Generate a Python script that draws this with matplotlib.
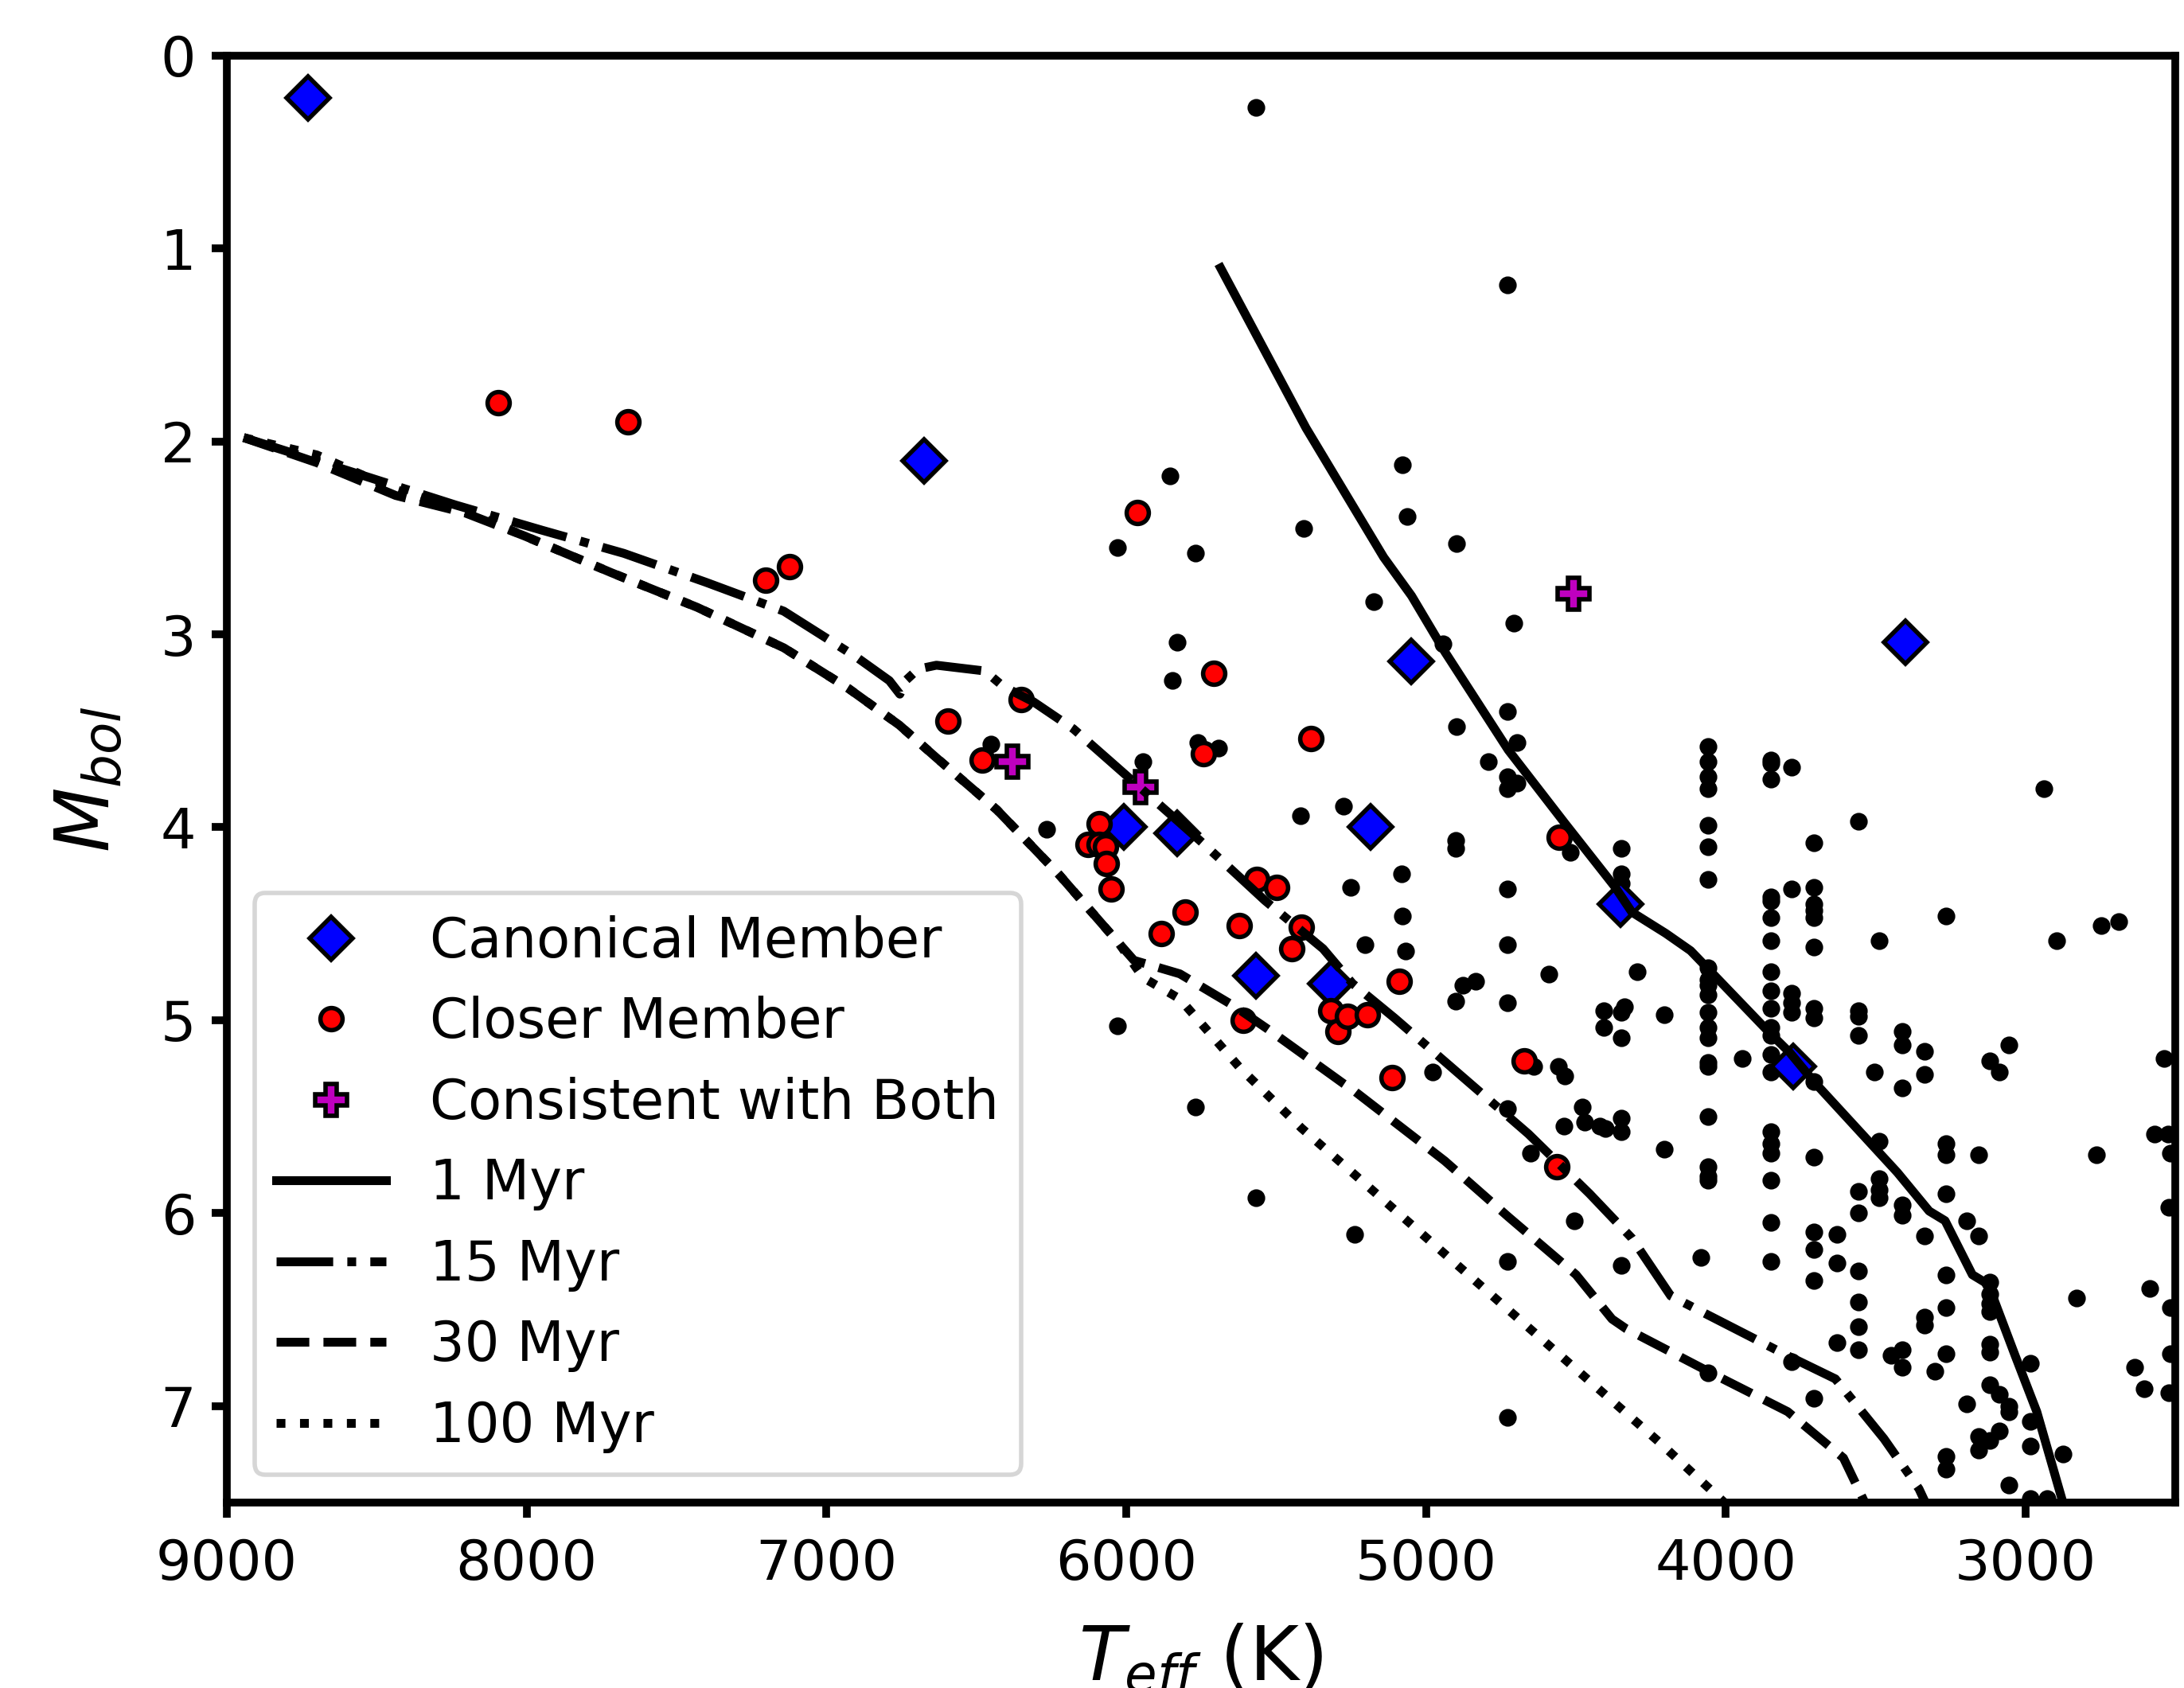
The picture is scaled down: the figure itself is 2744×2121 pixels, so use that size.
import numpy as np
import matplotlib
matplotlib.use("Agg")
import matplotlib.pyplot as plt

# canonical members (blue diamonds)
canon_teff = [8730, 6673, 5050, 3400, 6009, 5830, 5184, 4350, 5568, 5318, 3775]
canon_mbol = [0.22, 2.10, 3.14, 3.04, 4.00, 4.03, 4.00, 4.40, 4.77, 4.81, 5.24]

# closer members (red circles)
closer_teff = [8094, 7662, 7203, 7124, 5962, 5707, 6594, 6351, 6481, 5741, 5385,
               6091, 6126, 6091, 6070, 6065, 6049, 5802, 5882, 5563, 5497, 5622,
               5415, 5447, 5609, 5317, 5294, 5261, 5196, 5088, 5112, 4671, 4563, 4555]
closer_mbol = [1.80, 1.90, 2.72, 2.65, 2.37, 3.20, 3.45, 3.34, 3.65, 3.62, 3.54,
               3.98, 4.09, 4.09, 4.10, 4.19, 4.32, 4.44, 4.55, 4.27, 4.31, 4.51,
               4.52, 4.63, 5.00, 4.95, 5.06, 4.98, 4.97, 4.80, 5.30, 5.21, 5.76, 4.05]

# consistent with both (magenta plus)
both_teff = [6380, 5953, 4507]
both_mbol = [3.66, 3.79, 2.79]

# field stars (small black dots)
field_teff = [5568, 4727, 5855, 6028, 5768, 5407, 5078, 5062, 4897, 5173, 4706, 4942,
              5829, 5845, 4727, 4897, 4695, 4791, 4727, 4695, 4727, 6452, 5943, 5760,
              5693, 6264, 5417, 5274, 5250,
              4058, 4058, 4058, 4058, 4058, 4058, 4058, 4058, 4058, 4058, 4058, 4058,
              4058, 4058, 4058, 4058, 4058, 4058, 4058, 4058, 4058,
              3849, 3849, 3849, 3849, 3849, 3849, 3849, 3849, 3849, 3849, 3849, 3849,
              3849, 3849, 3849, 3849, 3849, 3849, 3849, 3849,
              3780, 3780, 3780, 3780, 3780, 3780,
              3705, 3705, 3705, 3705, 3705, 3705, 3705, 3705, 3705, 3705, 3705, 3705,
              3705, 3705,
              4900, 4900, 4518, 4348, 4348, 4348, 5080, 4727, 5078, 5202, 5067, 4727,
              2938, 3557, 3265, 3488, 2896, 2747, 2689,
              4589, 4295, 4876, 4833, 4900, 4727, 4406, 4406, 4348, 4337, 4348, 4204,
              3944, 4977, 4557, 4536, 4640,
              4727, 4478, 4539, 4470, 4419, 4401, 4348, 4348, 4204, 4650, 4504, 5239,
              4727, 4348, 4082, 4727, 6028, 5768, 5568,
              3557, 3557, 3557, 3411, 3411, 3337, 3337, 3411, 3504, 3055, 3119, 3087,
              2538, 3488, 3265, 3265, 3156, 2763, 2570, 2525, 2517, 3488, 3488, 3488,
              3557, 3557, 3411, 3411, 3265, 3337, 3196, 3156, 2522, 3628, 3628, 3557,
              3265, 3119, 3119, 3119, 3119, 3557, 3265, 3337, 3337, 3557, 3628, 3557,
              3411, 3448, 3411, 3265, 3302, 3119, 3119, 2830, 2585, 2517, 2517, 2984,
              2636, 2604, 2522, 3119, 3087, 3055, 3055, 3196, 2984, 3156, 3119, 3087,
              3156, 2984, 2875, 3265, 3265, 3055, 2984, 2928]
field_mbol = [0.27, 1.19, 2.18, 2.55, 2.58, 2.45, 2.12, 2.39, 2.53, 2.83, 2.94, 3.05,
              3.04, 3.24, 3.40, 3.48, 3.56, 3.66, 3.74, 3.77, 3.80, 3.57, 3.66, 3.56,
              3.59, 4.01, 3.94, 3.89, 4.31,
              3.58, 3.66, 3.74, 3.80, 3.99, 4.10, 4.27, 4.73, 4.79, 4.82, 4.87, 4.96,
              5.04, 5.09, 5.22, 5.24, 5.50, 5.76, 5.81, 5.83, 6.83,
              3.65, 3.67, 3.75, 4.36, 4.38, 4.47, 4.59, 4.75, 4.85, 4.94, 5.04, 5.08,
              5.18, 5.27, 5.58, 5.64, 5.69, 5.83, 6.05, 6.25,
              3.69, 4.32, 4.86, 4.91, 4.96, 6.77,
              4.08, 4.31, 4.40, 4.43, 4.47, 4.62, 4.94, 4.99, 5.32, 5.71, 6.10, 6.19,
              6.35, 6.96,
              4.07, 4.11, 4.13, 4.11, 4.24, 4.29, 4.24, 4.32, 4.46, 4.61, 4.64, 4.61,
              3.80, 3.97, 4.46, 4.59, 4.59, 4.51, 4.49,
              4.76, 4.75, 4.82, 4.80, 4.90, 4.91, 4.95, 5.04, 4.96, 4.93, 5.09, 4.97,
              5.20, 5.27, 5.24, 5.29, 5.24,
              5.46, 5.45, 5.55, 5.53, 5.55, 5.56, 5.51, 5.58, 5.67, 5.69, 6.04, 6.11,
              6.25, 6.27, 6.23, 7.06, 5.03, 5.45, 5.92,
              4.95, 4.98, 5.08, 5.06, 5.13, 5.16, 5.28, 5.35, 5.27, 5.13, 5.21, 5.27,
              5.20, 5.63, 5.64, 5.70, 5.70, 5.70, 5.59, 5.59, 5.69, 5.82, 5.88, 5.92,
              5.89, 6.00, 5.96, 6.01, 5.90, 6.12, 6.04, 6.12, 5.97, 6.11, 6.26, 6.30,
              6.32, 6.36, 6.42, 6.47, 6.51, 6.46, 6.49, 6.54, 6.58, 6.59, 6.67, 6.71,
              6.71, 6.74, 6.80, 6.73, 6.82, 6.68, 6.72, 6.44, 6.39, 6.49, 6.73, 6.78,
              6.80, 6.91, 6.93, 6.89, 6.94, 7.00, 7.03, 6.99, 7.08, 7.16, 7.18, 7.13,
              7.23, 7.21, 7.25, 7.26, 7.33, 7.41, 7.48, 7.48]

# isochrones
iso1_teff = [5685, 5400, 5141, 5048, 4937, 4725, 4536, 4369, 4313, 4200, 4117, 4061,
             3857, 3785, 3705, 3427, 3321, 3268, 3177, 3124, 3034, 2962, 2875]
iso1_mbol = [1.10, 1.93, 2.60, 2.80, 3.09, 3.60, 3.98, 4.31, 4.44, 4.55, 4.64, 4.73,
             5.06, 5.17, 5.32, 5.79, 5.99, 6.04, 6.32, 6.37, 6.74, 7.03, 7.50]

iso15_teff = [8944, 8700, 8236, 7949, 7676, 7402, 7142, 6898, 6790, 6755, 6736, 6694,
              6633, 6471, 6410, 6309, 6176, 5964, 5746, 5537, 5343, 5245, 5104, 4658,
              4454, 4313, 4183, 3793, 3634, 3472, 3355, 3334]
iso15_mbol = [1.98, 2.10, 2.33, 2.46, 2.58, 2.73, 2.88, 3.12, 3.24, 3.31, 3.24, 3.18,
              3.16, 3.19, 3.27, 3.35, 3.49, 3.78, 4.08, 4.38, 4.63, 4.81, 4.99, 5.59,
              5.90, 6.13, 6.43, 6.74, 6.86, 7.17, 7.43, 7.50]

iso30_teff = [8944, 8700, 8437, 8206, 8007, 7718, 7431, 7142, 6927, 6757, 6633, 6431,
              6227, 6025, 5974, 5821, 5637, 5515, 5274, 5245, 4937, 4725, 4499, 4379,
              4332, 4035, 3793, 3607, 3536]
iso30_mbol = [1.98, 2.11, 2.28, 2.37, 2.49, 2.68, 2.86, 3.07, 3.28, 3.47, 3.64, 3.91,
              4.24, 4.60, 4.69, 4.76, 4.93, 5.06, 5.33, 5.36, 5.73, 6.02, 6.32, 6.55,
              6.60, 6.84, 7.03, 7.27, 7.50]

iso100_teff = [8944, 8700, 8437, 8206, 8007, 7718, 7431, 7142, 6927, 6757, 6633, 6431,
               6227, 6025, 5943, 5821, 5619, 5415, 5253, 4873, 4499, 4220, 4005]
iso100_mbol = [1.98, 2.07, 2.25, 2.36, 2.49, 2.68, 2.86, 3.07, 3.28, 3.47, 3.64, 3.91,
               4.24, 4.60, 4.78, 4.89, 5.25, 5.56, 5.78, 6.30, 6.81, 7.19, 7.50]

plt.rcParams['axes.linewidth'] = 1.75
plt.rcParams['xtick.major.width'] = 1.75
plt.rcParams['ytick.major.width'] = 1.75

fig, ax = plt.subplots(figsize=(6.86, 5.3025), dpi=400)
plt.subplots_adjust(left=0.1039, right=0.996, top=0.967, bottom=0.110)

ax.plot(field_teff, field_mbol, 'k.', zorder=1)
h_can, = ax.plot(canon_teff, canon_mbol, 'D', color='b', mec='k', ms=7, mew=1,
                 ls='none', zorder=2, label='Canonical Member')
h_clo, = ax.plot(closer_teff, closer_mbol, 'o', color='r', mec='k', ms=5, mew=1,
                 ls='none', zorder=3, label='Closer Member')
h_both, = ax.plot(both_teff, both_mbol, 'P', color='m', mec='k', ms=7.3, mew=1,
                  ls='none', zorder=4, label='Consistent with Both')

h1, = ax.plot(iso1_teff, iso1_mbol, 'k-', lw=2, zorder=5, label='1 Myr')
h15, = ax.plot(iso15_teff, iso15_mbol, 'k-.', lw=2, zorder=5, label='15 Myr')
h30, = ax.plot(iso30_teff, iso30_mbol, 'k--', lw=2, zorder=5, label='30 Myr')
h100, = ax.plot(iso100_teff, iso100_mbol, 'k:', lw=2, zorder=5, label='100 Myr')

ax.set_xlim(9000, 2500)
ax.set_ylim(7.5, 0)
ax.set_xticks([9000, 8000, 7000, 6000, 5000, 4000, 3000])
ax.set_yticks(range(8))
ax.tick_params(labelsize=12.6)
ax.tick_params(axis='x', pad=4.5)

# the reference figure clips the bottom of the x label at the edge
ax.set_xlabel(r'$T_{eff}$ (K)', fontsize=17, labelpad=7)
ax.set_ylabel(r'$M_{bol}$', fontsize=17, labelpad=8)

ax.legend(handles=[h_can, h_clo, h_both, h1, h15, h30, h100],
          loc='lower left', fontsize=12.4)

plt.savefig('out.png', dpi=400)
